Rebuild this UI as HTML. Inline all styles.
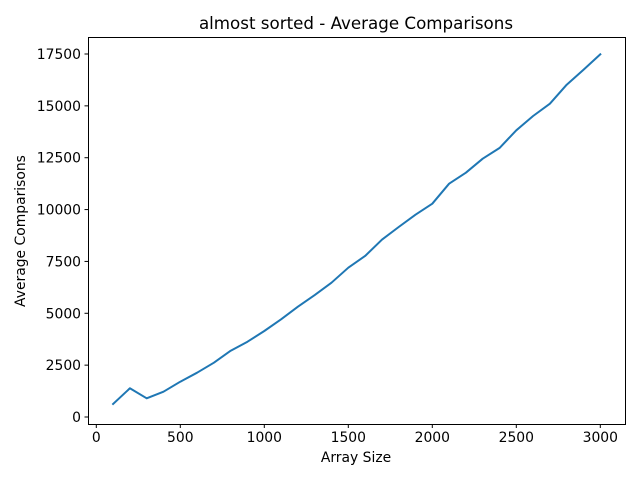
<!DOCTYPE html>
<html><head><meta charset="utf-8"><style>
html,body{margin:0;padding:0;background:#fff;}
svg{display:block;font-family:"DejaVu Sans","Liberation Sans",sans-serif;}
</style></head><body>
<svg id="chart" width="640" height="480" viewBox="0 0 640 480" xmlns="http://www.w3.org/2000/svg">
<rect x="0" y="0" width="640" height="480" fill="#fff"/>
<text x="356" y="29" font-size="16.7" text-anchor="middle" fill="#000">almost sorted - Average Comparisons</text>
<g id="xticks"></g>
<g id="yticks"></g>
<path id="series" fill="none" stroke="#1f77b4" stroke-width="2" stroke-linejoin="round" stroke-linecap="square"/>
<rect x="88.5" y="37.5" width="537" height="387" fill="none" stroke="#000" stroke-width="1"/>
<text x="356" y="462" font-size="13.9" text-anchor="middle">Array Size</text>
<text transform="translate(25,231) rotate(-90)" font-size="13.9" text-anchor="middle">Average Comparisons</text>
</svg>
<script>
const sizes = [100,200,300,400,500,600,700,800,900,1000,1100,1200,1300,1400,1500,1600,1700,1800,1900,2000,2100,2200,2300,2400,2500,2600,2700,2800,2900,3000];
const comparisons = [627,1384,901,1220,1702,2136,2618,3196,3630,4146,4710,5317,5881,6475,7198,7762,8548,9160,9753,10283,11248,11778,12453,12968,13821,14511,15104,16020,16743,17486];
const xTickValues = [0,500,1000,1500,2000,2500,3000];
const yTickValues = [0,2500,5000,7500,10000,12500,15000,17500];

const NS = "http://www.w3.org/2000/svg";
function xs(v){ return 96.3 + v * (504/3000); }
function ys(v){ return 417 - v * (363/17500); }

const xg = document.getElementById('xticks');
xTickValues.forEach(v => {
  const x = xs(v);
  const l = document.createElementNS(NS,'line');
  l.setAttribute('x1',x); l.setAttribute('x2',x);
  l.setAttribute('y1',424.5); l.setAttribute('y2',428);
  l.setAttribute('stroke','#000');
  
  
  xg.appendChild(l);
  const t = document.createElementNS(NS,'text');
  t.setAttribute('x',x); t.setAttribute('y',442);
  t.setAttribute('font-size','13.9'); t.setAttribute('text-anchor','middle');
  t.textContent = v;
  
  
  xg.appendChild(t);
});
const yg = document.getElementById('yticks');
yTickValues.forEach(v => {
  const y = ys(v);
  const l = document.createElementNS(NS,'line');
  l.setAttribute('x1',84.5); l.setAttribute('x2',88.5);
  l.setAttribute('y1',y); l.setAttribute('y2',y);
  l.setAttribute('stroke','#000');
  
  
  yg.appendChild(l);
  const t = document.createElementNS(NS,'text');
  t.setAttribute('x',81); t.setAttribute('y',y+5);
  t.setAttribute('font-size','13.9'); t.setAttribute('text-anchor','end');
  t.textContent = v;
  
  
  yg.appendChild(t);
});
let d = '';
sizes.forEach((s,i) => { d += (i ? 'L' : 'M') + xs(s).toFixed(2) + ',' + ys(comparisons[i]).toFixed(2); });
document.getElementById('series').setAttribute('d', d);
</script>
</body></html>
